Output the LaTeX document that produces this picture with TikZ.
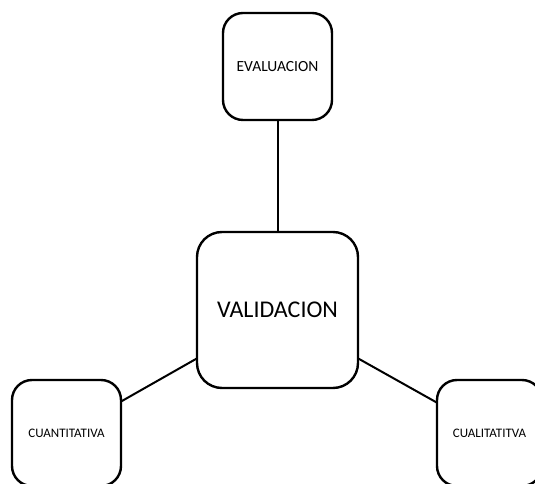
\documentclass[tikz,border=0pt]{standalone}
\usepackage{fontspec}
\setmainfont{Carlito}
\begin{document}
\begin{tikzpicture}[x=1pt, y=1pt]
\tikzset{ inner sep=0pt, outer sep=0pt,
  caja/.style={draw=black, line width=2.4pt, rounded corners=20pt, align=center},
  enlace/.style={line width=2pt},
}

%\draw [lightgray, dashed](0,0) grid [step=50] (535,484);
\clip (0,0) rectangle (535,484);
\fill [white] (0,0) rectangle (535,484);

\node [caja, minimum width=109, minimum height=107,
       font=\fontsize{15.5}{18}\selectfont] (EVAL) at (277.5,417.5) {EVALUACION};
\node [caja, minimum width=161, minimum height=156, rounded corners=25pt,
       font=\fontsize{24}{28}\selectfont] (VAL) at (277.5,174) {VALIDACION};
\node [caja, minimum width=109, minimum height=106,
       font=\fontsize{13}{15}\selectfont] (CUANT) at (66.5,51) {CUANTITATIVA};
\node [caja, minimum width=105, minimum height=106,
       font=\fontsize{13}{15}\selectfont] (CUAL) at (489.5,51) {CUALITATITVA};

\draw [enlace] (EVAL) -- (VAL);
\draw [enlace] (VAL.211) -- (CUANT.30);
\draw [enlace] (VAL.329) -- (CUAL.150);

\end{tikzpicture}
\end{document}
